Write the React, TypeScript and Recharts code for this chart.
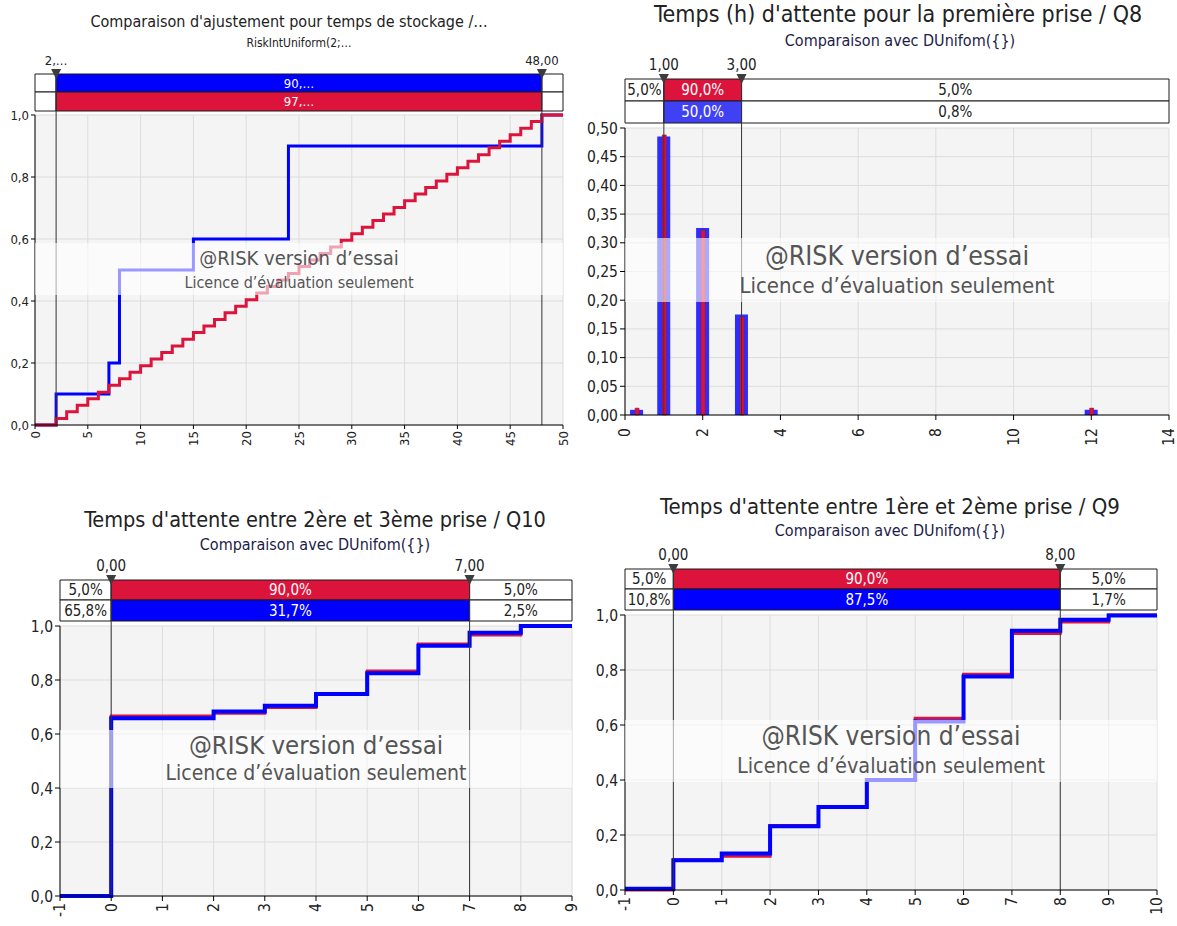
import React from 'react';
import {
  ComposedChart,
  Line,
  Bar,
  XAxis,
  YAxis,
  CartesianGrid,
  ReferenceArea,
  ReferenceLine,
  ReferenceDot,
} from 'recharts';

const FONT = "'DejaVu Sans Condensed', 'Liberation Sans', sans-serif";
const BLUE = '#0000ff';
const RED = '#dc143c';
const INK = '#222222';

// --- temps de stockage (haut gauche)
const stockObsX = [0, 2, 7, 8, 15, 24, 48, 50];
const stockObsP = [0, 0.1, 0.2, 0.5, 0.6, 0.9, 1, 1];
const stockFitX = [
  0, 2, 3, 4, 5, 6, 7, 8, 9, 10, 11, 12, 13, 14, 15, 16, 17, 18, 19, 20, 21, 22, 23, 24, 25,
  26, 27, 28, 29, 30, 31, 32, 33, 34, 35, 36, 37, 38, 39, 40, 41, 42, 43, 44, 45, 46, 47, 48, 50,
];
const stockFitP = [
  0, 0.021, 0.043, 0.064, 0.085, 0.106, 0.128, 0.149, 0.17, 0.191, 0.213, 0.234, 0.255, 0.277,
  0.298, 0.319, 0.34, 0.362, 0.383, 0.404, 0.426, 0.447, 0.468, 0.489, 0.511, 0.532, 0.553, 0.574,
  0.596, 0.617, 0.638, 0.66, 0.681, 0.702, 0.723, 0.745, 0.766, 0.787, 0.809, 0.83, 0.851, 0.872,
  0.894, 0.915, 0.936, 0.957, 0.979, 1, 1,
];
const stockTicks = [0, 5, 10, 15, 20, 25, 30, 35, 40, 45, 50];
const stockEdges = [0, 2, 48, 50];
const stockMarks = ['2,…', '48,00'];
const stockRowObs = ['', '90,…', ''];
const stockRowFit = ['', '97,…', ''];

// --- Q8 (haut droite)
const q8X = [0.3, 1, 2, 3, 12];
const q8Obs = [0.009, 0.485, 0.326, 0.175, 0.009];
const q8Fit = [0.012, 0.488, 0.322, 0.171, 0.012];
const q8Ticks = [0, 2, 4, 6, 8, 10, 12, 14];
const q8YTicks = [0, 0.05, 0.1, 0.15, 0.2, 0.25, 0.3, 0.35, 0.4, 0.45, 0.5];
const q8Edges = [0, 1, 3, 14];
const q8Marks = ['1,00', '3,00'];
const q8RowFit = ['5,0%', '90,0%', '5,0%'];
const q8RowObs = ['', '50,0%', '0,8%'];

// --- Q10 (bas gauche)
const q10X = [-1, 0, 1, 2, 3, 4, 5, 6, 7, 8, 9];
const q10Obs = [0, 0.658, 0.658, 0.683, 0.705, 0.748, 0.825, 0.927, 0.975, 1, 1];
const q10Fit = [0, 0.667, 0.667, 0.677, 0.698, 0.75, 0.833, 0.933, 0.967, 1, 1];
const q10Edges = [-1, 0, 7, 9];
const q10Marks = ['0,00', '7,00'];
const q10RowFit = ['5,0%', '90,0%', '5,0%'];
const q10RowObs = ['65,8%', '31,7%', '2,5%'];

// --- Q9 (bas droite)
const q9X = [-1, 0, 1, 2, 3, 4, 5, 6, 7, 8, 9, 10];
const q9Obs = [0.005, 0.108, 0.133, 0.232, 0.302, 0.4, 0.613, 0.776, 0.943, 0.983, 0.998, 0.998];
const q9Fit = [0, 0.11, 0.123, 0.235, 0.3, 0.4, 0.625, 0.785, 0.933, 0.975, 1, 1];
const q9Edges = [-1, 0, 8, 10];
const q9Marks = ['0,00', '8,00'];
const q9RowFit = ['5,0%', '90,0%', '5,0%'];
const q9RowObs = ['10,8%', '87,5%', '1,7%'];

const cdfTicks = [0, 0.2, 0.4, 0.6, 0.8, 1];
const intTicks = (a: number, b: number) => {
  const t: number[] = [];
  for (let v = a; v <= b; v++) t.push(v);
  return t;
};

const pts = (xs: number[], ps: number[]) => xs.map((x, i) => ({ x, p: ps[i] }));
const fmt1 = (v: number) => v.toFixed(1).replace('.', ',');
const fmt2 = (v: number) => v.toFixed(2).replace('.', ',');

const RotTick = ({ x, y, payload, size = 13, gap = 0 }: any) => (
  <text
    x={x}
    y={y + gap}
    transform={`rotate(-90 ${x} ${y + gap})`}
    textAnchor="end"
    dy="0.35em"
    fontSize={size}
    fill={INK}
    fontFamily={FONT}
  >
    {payload.value}
  </text>
);

const MarkTri = ({ cx, cy, text, size }: any) => (
  <g>
    <path d={`M${cx - 5},${cy - 5}L${cx + 5},${cy - 5}L${cx},${cy + 5}Z`} fill="#3c3c3c" />
    <text x={cx} y={cy - 9} textAnchor="middle" fontSize={size} fill={INK} fontFamily={FONT}>
      {text}
    </text>
  </g>
);

// px above the plot top -> y value, so the header follows the y scale
const above = (yMax: number, plotH: number) => (px: number) => yMax + (px * yMax) / plotH;

const bandRow = (
  key: string,
  edges: number[],
  texts: string[],
  y1: number,
  y2: number,
  mid: string,
  size: number,
  xAxisId: string | number = 0,
) =>
  texts.map((t, i) => (
    <ReferenceArea
      key={key + i}
      xAxisId={xAxisId}
      x1={edges[i]}
      x2={edges[i + 1]}
      y1={y1}
      y2={y2}
      ifOverflow="visible"
      fill={i === 1 ? mid : '#ffffff'}
      fillOpacity={1}
      stroke="#1a1a1a"
      strokeWidth={1}
      label={{ value: t, position: 'center', fill: i === 1 ? '#ffffff' : INK, fontSize: size, fontFamily: FONT }}
    />
  ));

const markers = (
  key: string,
  xs: number[],
  texts: string[],
  top: number,
  size: number,
  xAxisId: string | number = 0,
) =>
  xs.flatMap((x, i) => [
    <ReferenceLine
      key={key + 'l' + i}
      xAxisId={xAxisId}
      segment={[
        { x, y: top },
        { x, y: 0 },
      ]}
      ifOverflow="visible"
      stroke="#333"
      strokeWidth={1}
    />,
    <ReferenceDot
      key={key + 'd' + i}
      xAxisId={xAxisId}
      x={x}
      y={top}
      r={0}
      ifOverflow="visible"
      shape={(p: any) => <MarkTri cx={p.cx} cy={p.cy} text={texts[i]} size={size} />}
    />,
  ]);

const Label = ({ x, y, size, color = INK, children }: any) => (
  <div
    style={{
      position: 'absolute',
      left: x - 350,
      width: 700,
      top: y - size * 0.6,
      lineHeight: `${size * 1.2}px`,
      fontSize: size,
      color,
      textAlign: 'center',
      whiteSpace: 'nowrap',
      fontFamily: FONT,
    }}
  >
    {children}
  </div>
);

const Watermark = ({ left, right, top, bottom, y1, y2, s1, s2 }: any) => (
  <>
    <div
      style={{
        position: 'absolute',
        left,
        top,
        width: right - left,
        height: bottom - top,
        background: 'rgba(255,255,255,0.6)',
      }}
    />
    <Label x={(left + right) / 2} y={y1} size={s1} color="#555">
      @RISK version d’essai
    </Label>
    <Label x={(left + right) / 2} y={y2} size={s2} color="#555">
      Licence d’évaluation seulement
    </Label>
  </>
);

const yTick = { fontSize: 15.5, fill: INK, fontFamily: FONT };
const gridProps = { fill: '#f4f4f4', fillOpacity: 1, stroke: '#dcdcdc' };

const StockChart = () => {
  const h = above(1, 310);
  return (
    <ComposedChart width={580} height={460} margin={{ top: 115, right: 17, left: 3, bottom: 0 }}>
      <CartesianGrid {...gridProps} />
      <XAxis
        type="number"
        dataKey="x"
        domain={[0, 50]}
        ticks={stockTicks}
        height={35}
        tick={<RotTick size={13} />}
        tickSize={4}
        axisLine={{ stroke: '#000' }}
        tickLine={{ stroke: '#000' }}
        allowDataOverflow
      />
      <YAxis
        type="number"
        domain={[0, 1]}
        ticks={cdfTicks}
        width={32}
        tick={{ ...yTick, fontSize: 13 }}
        tickFormatter={fmt1}
        tickSize={4}
        axisLine={{ stroke: '#000' }}
        tickLine={{ stroke: '#000' }}
      />
      <Line
        data={pts(stockObsX, stockObsP)}
        dataKey="p"
        type="stepAfter"
        stroke={BLUE}
        strokeWidth={3}
        dot={false}
        isAnimationActive={false}
      />
      <Line
        data={pts(stockFitX, stockFitP)}
        dataKey="p"
        type="stepAfter"
        stroke={RED}
        strokeWidth={3}
        dot={false}
        isAnimationActive={false}
      />
      {bandRow('o', stockEdges, stockRowObs, h(41), h(23), BLUE, 13)}
      {bandRow('f', stockEdges, stockRowFit, h(23), h(4), RED, 13)}
      {markers('m', [stockEdges[1], stockEdges[2]], stockMarks, h(41), 13)}
    </ComposedChart>
  );
};

const Q8Chart = () => {
  const h = above(0.5, 287);
  const data = q8X.map((x, i) => ({ x, obs: q8Obs[i], fit: q8Fit[i] }));
  return (
    <ComposedChart width={597} height={460} data={data} margin={{ top: 128, right: 8, left: 0, bottom: 0 }}>
      <CartesianGrid {...gridProps} xAxisId="main" />
      <XAxis
        xAxisId="main"
        type="number"
        dataKey="x"
        domain={[0, 14]}
        ticks={q8Ticks}
        height={45}
        tick={<RotTick size={15.5} gap={6} />}
        tickSize={5}
        axisLine={{ stroke: '#000' }}
        tickLine={{ stroke: '#000' }}
      />
      <XAxis xAxisId="over" type="number" dataKey="x" domain={[0, 14]} hide />
      <YAxis
        type="number"
        domain={[0, 0.5]}
        ticks={q8YTicks}
        width={45}
        tick={yTick}
        tickFormatter={fmt2}
        tickSize={5}
        axisLine={{ stroke: '#000' }}
        tickLine={{ stroke: '#000' }}
      />
      <Bar xAxisId="main" dataKey="obs" fill="#2d2dff" barSize={13} isAnimationActive={false} />
      <Bar xAxisId="over" dataKey="fit" fill={RED} stroke="#9a0e2a" strokeWidth={0.5} barSize={4} isAnimationActive={false} />
      {bandRow('f', q8Edges, q8RowFit, h(49), h(27), RED, 15, 'main')}
      {bandRow('o', q8Edges, q8RowObs, h(27), h(5), '#4040f4', 15, 'main')}
      {markers('m', [q8Edges[1], q8Edges[2]], q8Marks, h(49), 15, 'main')}
    </ComposedChart>
  );
};

const CdfChart = ({ xs, obs, fit, edges, marks, rowFit, rowObs, width, height, margin, xMax, xHeight }: any) => {
  const plotH = height - margin.top - xHeight;
  const h = above(1, plotH);
  return (
    <ComposedChart width={width} height={height} margin={margin}>
      <CartesianGrid {...gridProps} />
      <XAxis
        type="number"
        dataKey="x"
        domain={[-1, xMax]}
        ticks={intTicks(-1, xMax)}
        height={xHeight}
        tick={<RotTick size={15.5} />}
        tickSize={5}
        axisLine={{ stroke: '#000' }}
        tickLine={{ stroke: '#000' }}
      />
      <YAxis
        type="number"
        domain={[0, 1]}
        ticks={cdfTicks}
        width={40}
        tick={yTick}
        tickFormatter={fmt1}
        tickSize={5}
        axisLine={{ stroke: '#000' }}
        tickLine={{ stroke: '#000' }}
      />
      <Line
        data={pts(xs, fit)}
        dataKey="p"
        type="stepAfter"
        stroke={RED}
        strokeWidth={3}
        dot={false}
        isAnimationActive={false}
      />
      <Line
        data={pts(xs, obs)}
        dataKey="p"
        type="stepAfter"
        stroke={BLUE}
        strokeWidth={4}
        dot={false}
        isAnimationActive={false}
      />
      {bandRow('f', edges, rowFit, h(46), h(26), RED, 15)}
      {bandRow('o', edges, rowObs, h(26), h(5), BLUE, 15)}
      {markers('m', [edges[1], edges[2]], marks, h(46), 15)}
    </ComposedChart>
  );
};

const App = () => (
  <div
    style={{
      position: 'absolute',
      left: 0,
      top: 0,
      width: 1177,
      height: 926,
      background: '#fff',
      overflow: 'hidden',
      fontFamily: FONT,
    }}
  >
    <div style={{ position: 'absolute', left: 0, top: 0 }}>
      <StockChart />
    </div>
    <div style={{ position: 'absolute', left: 580, top: 0 }}>
      <Q8Chart />
    </div>
    <div style={{ position: 'absolute', left: 0, top: 470 }}>
      <CdfChart
        xs={q10X}
        obs={q10Obs}
        fit={q10Fit}
        edges={q10Edges}
        marks={q10Marks}
        rowFit={q10RowFit}
        rowObs={q10RowObs}
        width={580}
        height={456}
        margin={{ top: 156, right: 8, left: 20, bottom: 0 }}
        xMax={9}
        xHeight={30}
      />
    </div>
    <div style={{ position: 'absolute', left: 580, top: 470 }}>
      <CdfChart
        xs={q9X}
        obs={q9Obs}
        fit={q9Fit}
        edges={q9Edges}
        marks={q9Marks}
        rowFit={q9RowFit}
        rowObs={q9RowObs}
        width={597}
        height={456}
        margin={{ top: 145, right: 20, left: 5, bottom: 0 }}
        xMax={10}
        xHeight={36}
      />
    </div>

    <Label x={289} y={22} size={16}>Comparaison d'ajustement pour temps de stockage /…</Label>
    <Label x={299} y={43} size={12}>RiskIntUniform(2;…</Label>
    <Label x={898} y={15} size={23}>Temps (h) d'attente pour la première prise / Q8</Label>
    <Label x={900} y={41} size={16} color="#1c1c48">Comparaison avec DUnifom({'{}'})</Label>
    <Label x={315} y={520} size={21.5}>Temps d'attente entre 2ère et 3ème prise / Q10</Label>
    <Label x={315} y={545} size={16} color="#1c1c48">Comparaison avec DUnifom({'{}'})</Label>
    <Label x={890} y={507} size={22}>Temps d'attente entre 1ère et 2ème prise / Q9</Label>
    <Label x={890} y={531} size={16} color="#1c1c48">Comparaison avec DUnifom({'{}'})</Label>

    <Watermark left={35} right={563} top={243} bottom={295} y1={258} y2={283} s1={20} s2={16} />
    <Watermark left={625} right={1169} top={238} bottom={302} y1={256} y2={286} s1={26.5} s2={22} />
    <Watermark left={60} right={572} top={730} bottom={788} y1={745} y2={774} s1={25.5} s2={21} />
    <Watermark left={625} right={1157} top={720} bottom={782} y1={737} y2={766} s1={26} s2={21.5} />
  </div>
);

export default App;
